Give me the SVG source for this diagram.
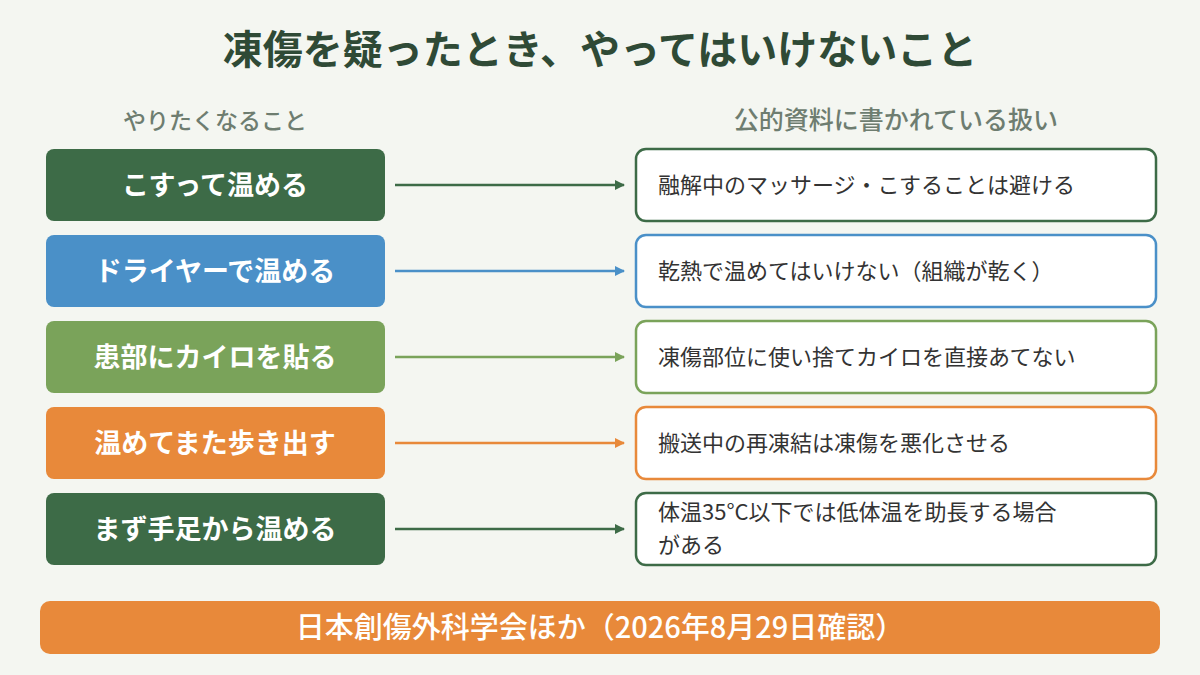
<svg xmlns="http://www.w3.org/2000/svg" width="1200" height="675" viewBox="0 0 1200 675">
<style>
text{font-family:"Noto Sans CJK JP","Noto Sans",sans-serif}
.t{font-size:40px;font-weight:bold;fill:#2f4a36}
.h{font-size:23px;font-weight:500;fill:#6e7d70}
.l{font-size:27px;font-weight:bold;fill:#fff}
.r{font-size:22px;fill:#333}
.rb{fill:#fff;stroke-width:2.5}
.f{font-size:29px;font-weight:500;fill:#fff}
</style>
<defs>
<marker id="mg" markerWidth="10" markerHeight="10" refX="9" refY="5" orient="auto" markerUnits="userSpaceOnUse"><path d="M0,0L10,5L0,10z" fill="#3d6b47"/></marker>
<marker id="mb" markerWidth="10" markerHeight="10" refX="9" refY="5" orient="auto" markerUnits="userSpaceOnUse"><path d="M0,0L10,5L0,10z" fill="#4a90c8"/></marker>
<marker id="ml" markerWidth="10" markerHeight="10" refX="9" refY="5" orient="auto" markerUnits="userSpaceOnUse"><path d="M0,0L10,5L0,10z" fill="#7aa35a"/></marker>
<marker id="mo" markerWidth="10" markerHeight="10" refX="9" refY="5" orient="auto" markerUnits="userSpaceOnUse"><path d="M0,0L10,5L0,10z" fill="#e8893a"/></marker>
</defs>
<rect width="1200" height="675" fill="#f4f6f1"/>
<text class="t" x="600" y="64" text-anchor="middle">凍傷を疑ったとき、やってはいけないこと</text>
<text class="h" x="215" y="129" text-anchor="middle">やりたくなること</text>
<text class="h" x="896" y="129" text-anchor="middle" style="font-size:25px">公的資料に書かれている扱い</text>
<g id="n1"><rect x="46" y="149" width="339" height="72" rx="8" fill="#3d6b47"/><text class="l" x="215" y="195" text-anchor="middle">こすって温める</text></g>
<g id="n2"><rect x="46" y="235" width="339" height="72" rx="8" fill="#4a90c8"/><text class="l" x="215" y="281" text-anchor="middle">ドライヤーで温める</text></g>
<g id="n3"><rect x="46" y="321" width="339" height="72" rx="8" fill="#7aa35a"/><text class="l" x="215" y="367" text-anchor="middle">患部にカイロを貼る</text></g>
<g id="n4"><rect x="46" y="407" width="339" height="72" rx="8" fill="#e8893a"/><text class="l" x="215" y="453" text-anchor="middle">温めてまた歩き出す</text></g>
<g id="n5"><rect x="46" y="493" width="339" height="72" rx="8" fill="#3d6b47"/><text class="l" x="215" y="539" text-anchor="middle">まず手足から温める</text></g>
<g id="r1"><rect class="rb" x="636" y="149" width="520" height="72" rx="10" stroke="#3d6b47"/><text class="r" x="658" y="193">融解中のマッサージ・こすることは避ける</text></g>
<g id="r2"><rect class="rb" x="636" y="235" width="520" height="72" rx="10" stroke="#4a90c8"/><text class="r" x="658" y="279">乾熱で温めてはいけない（組織が乾く）</text></g>
<g id="r3"><rect class="rb" x="636" y="321" width="520" height="72" rx="10" stroke="#7aa35a"/><text class="r" x="658" y="365">凍傷部位に使い捨てカイロを直接あてない</text></g>
<g id="r4"><rect class="rb" x="636" y="407" width="520" height="72" rx="10" stroke="#e8893a"/><text class="r" x="658" y="451">搬送中の再凍結は凍傷を悪化させる</text></g>
<g id="r5"><rect class="rb" x="636" y="493" width="520" height="72" rx="10" stroke="#3d6b47"/><text class="r" x="658" y="520">体温35°C以下では低体温を助長する場合</text><text class="r" x="658" y="553">がある</text></g>
<g id="connectors" stroke-width="2.5">
<line x1="395" y1="185" x2="624" y2="185" stroke="#3d6b47" marker-end="url(#mg)"/>
<line x1="395" y1="271" x2="624" y2="271" stroke="#4a90c8" marker-end="url(#mb)"/>
<line x1="395" y1="357" x2="624" y2="357" stroke="#7aa35a" marker-end="url(#ml)"/>
<line x1="395" y1="443" x2="624" y2="443" stroke="#e8893a" marker-end="url(#mo)"/>
<line x1="395" y1="529" x2="624" y2="529" stroke="#3d6b47" marker-end="url(#mg)"/>
</g>
<g id="footer"><rect x="40" y="601" width="1120" height="53" rx="10" fill="#e8893a"/><text class="f" x="600" y="638" text-anchor="middle">日本創傷外科学会ほか（2026年8月29日確認）</text></g>
</svg>
